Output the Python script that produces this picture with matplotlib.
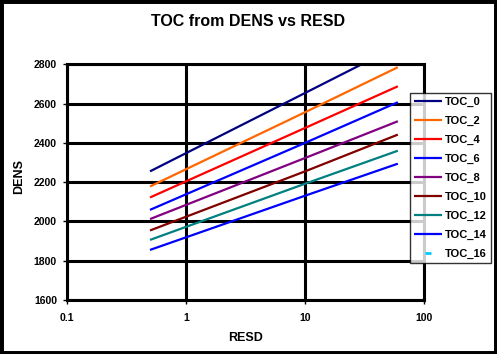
import matplotlib
matplotlib.use("Agg")
import matplotlib.pyplot as plt
from matplotlib.patches import Rectangle
from matplotlib.ticker import FixedLocator, FuncFormatter, NullLocator

plt.rcParams["font.family"] = ["Liberation Sans", "DejaVu Sans"]
plt.rcParams["font.weight"] = "bold"

# RESD sample points
resd = [0.5, 10, 60]

# DENS values per TOC curve at those RESD points
toc_0 = [2255, 2654, 2893]
toc_2 = [2178, 2556, 2785]
toc_4 = [2122, 2476, 2688]
toc_6 = [2059, 2400, 2607]
toc_8 = [2012, 2323, 2510]
toc_10 = [1954, 2255, 2442]
toc_12 = [1906, 2192, 2360]
toc_14 = [1855, 2131, 2294]
toc_16 = []

labels = ["TOC_0", "TOC_2", "TOC_4", "TOC_6", "TOC_8",
          "TOC_10", "TOC_12", "TOC_14", "TOC_16"]
series = [toc_0, toc_2, toc_4, toc_6, toc_8, toc_10, toc_12, toc_14, toc_16]
colors = ["#000080", "#FF6600", "#FF0000", "#0000FF", "#800080",
          "#800000", "#008080", "#0000FF", "#00CCFF"]

x_ticks = [0.1, 1, 10, 100]
y_ticks = [1600, 1800, 2000, 2200, 2400, 2600, 2800]

fig = plt.figure(figsize=(4.97, 3.54), dpi=100)
ax = fig.add_axes([0.1342, 0.1525, 0.7195, 0.6659])

for name, vals, col in zip(labels, series, colors):
    if vals:
        ax.plot(resd, vals, color=col, lw=1.6, label=name, solid_capstyle="butt")
    else:
        ax.plot([], [], color=col, ls="none", marker="_", ms=5, mew=2, label=name)

ax.set_xscale("log")
ax.set_xlim(0.1, 100)
ax.set_ylim(1600, 2800)
ax.xaxis.set_major_locator(FixedLocator(x_ticks))
ax.xaxis.set_minor_locator(NullLocator())
ax.xaxis.set_major_formatter(FuncFormatter(lambda v, p: "%g" % v))
ax.yaxis.set_major_locator(FixedLocator(y_ticks))

ax.set_axisbelow(True)
ax.grid(True, color="black", lw=2.2)
for sp in ax.spines.values():
    sp.set_color("black")
    sp.set_linewidth(2.2)
ax.tick_params(axis="both", length=3, width=1, labelsize=7.5, color="black")
ax.tick_params(axis="x", pad=6)
ax.tick_params(axis="y", pad=4)

fig.text(0.5, 0.939, "TOC from DENS vs RESD", ha="center", va="center",
         fontsize=11.5, fontweight="bold")
fig.text(245.7 / 497, 1 - 338.3 / 354, "RESD", ha="center", va="center",
         fontsize=9, fontweight="bold")
fig.text(19 / 497, 1 - 177 / 354, "DENS", ha="center", va="center",
         rotation=90, fontsize=9, fontweight="bold")

leg = ax.legend(loc="upper left", bbox_to_anchor=(410.3 / 497, 1 - 93.3 / 354),
                bbox_transform=fig.transFigure, borderaxespad=0, fontsize=8,
                frameon=True, fancybox=False, edgecolor="black",
                handlelength=2.5, handletextpad=0.25, labelspacing=0.8,
                borderpad=0.35)
leg.get_frame().set_linewidth(1.0)

# black frame around the whole chart
fig.patches.append(Rectangle((0, 0), 1, 1, transform=fig.transFigure,
                             fill=False, edgecolor="black", lw=5))

fig.savefig("out.png", dpi=100)
